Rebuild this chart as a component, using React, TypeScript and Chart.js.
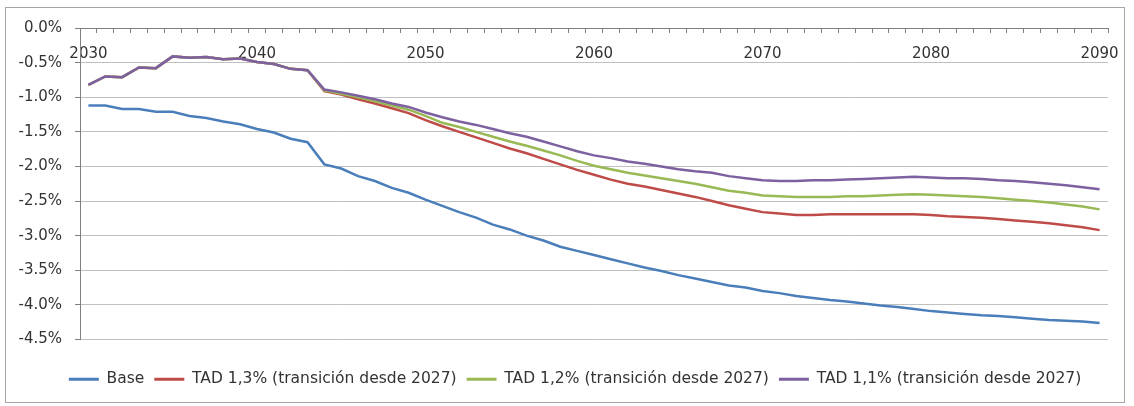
import React, { useEffect, useRef } from "react";
import { Chart, registerables } from "chart.js";

Chart.register(...registerables);

const years = [
  "2030", "2031", "2032", "2033", "2034", "2035", "2036", "2037", "2038", "2039",
  "2040", "2041", "2042", "2043", "2044", "2045", "2046", "2047", "2048", "2049",
  "2050", "2051", "2052", "2053", "2054", "2055", "2056", "2057", "2058", "2059",
  "2060", "2061", "2062", "2063", "2064", "2065", "2066", "2067", "2068", "2069",
  "2070", "2071", "2072", "2073", "2074", "2075", "2076", "2077", "2078", "2079",
  "2080", "2081", "2082", "2083", "2084", "2085", "2086", "2087", "2088", "2089",
  "2090",
];

const base = [
  -1.12, -1.12, -1.17, -1.17, -1.21, -1.21, -1.27, -1.3, -1.35, -1.39,
  -1.46, -1.51, -1.6, -1.65, -1.97, -2.03, -2.14, -2.21, -2.31, -2.38,
  -2.48, -2.57, -2.66, -2.74, -2.84, -2.91, -3.0, -3.07, -3.16, -3.22,
  -3.28, -3.34, -3.4, -3.46, -3.51, -3.57, -3.62, -3.67, -3.72, -3.75,
  -3.8, -3.83, -3.87, -3.9, -3.93, -3.95, -3.98, -4.01, -4.03, -4.06,
  -4.09, -4.11, -4.13, -4.15, -4.16, -4.18, -4.2, -4.22, -4.23, -4.24,
  -4.26,
];

const tad13 = [
  -0.82, -0.7, -0.71, -0.57, -0.58, -0.41, -0.43, -0.42, -0.45, -0.44,
  -0.49, -0.52, -0.59, -0.61, -0.91, -0.96, -1.03, -1.09, -1.16, -1.23,
  -1.33, -1.42, -1.5, -1.58, -1.66, -1.74, -1.81, -1.89, -1.97, -2.05,
  -2.12, -2.19, -2.25, -2.29, -2.34, -2.39, -2.44, -2.5, -2.56, -2.61,
  -2.66, -2.68, -2.7, -2.7, -2.69, -2.69, -2.69, -2.69, -2.69, -2.69,
  -2.7, -2.72, -2.73, -2.74, -2.76, -2.78, -2.8, -2.82, -2.85, -2.88,
  -2.92,
];

const tad12 = [
  -0.82, -0.7, -0.71, -0.57, -0.58, -0.41, -0.43, -0.42, -0.45, -0.44,
  -0.49, -0.52, -0.59, -0.61, -0.9, -0.95, -1.0, -1.06, -1.12, -1.18,
  -1.27, -1.37, -1.43, -1.5, -1.57, -1.64, -1.7, -1.77, -1.84, -1.92,
  -1.99, -2.04, -2.09, -2.13, -2.17, -2.21, -2.25, -2.3, -2.35, -2.38,
  -2.42, -2.43, -2.44, -2.44, -2.44, -2.43, -2.43, -2.42, -2.41, -2.4,
  -2.41, -2.42, -2.43, -2.44, -2.46, -2.48, -2.5, -2.52, -2.55, -2.58,
  -2.62,
];

const tad11 = [
  -0.82, -0.7, -0.71, -0.57, -0.58, -0.41, -0.43, -0.42, -0.45, -0.44,
  -0.49, -0.52, -0.59, -0.61, -0.89, -0.93, -0.98, -1.03, -1.09, -1.14,
  -1.22, -1.29, -1.35, -1.4, -1.46, -1.52, -1.57, -1.64, -1.71, -1.78,
  -1.84, -1.88, -1.93, -1.96, -2.0, -2.04, -2.07, -2.09, -2.14, -2.17,
  -2.2, -2.21, -2.21, -2.2, -2.2, -2.19, -2.18, -2.17, -2.16, -2.15,
  -2.16, -2.17, -2.17, -2.18, -2.2, -2.21, -2.23, -2.25, -2.27, -2.3,
  -2.33,
];

const seriesNames = [
  "Base",
  "TAD 1,3% (transición desde 2027)",
  "TAD 1,2% (transición desde 2027)",
  "TAD 1,1% (transición desde 2027)",
];
const seriesColors = ["#4A7EBB", "#BE4B48", "#98B954", "#7D60A0"];
const seriesValues = [base, tad13, tad12, tad11];

const FONT = "'DejaVu Sans', sans-serif";
const TEXT = "#333333";

// Moves the legend row so it is centred under the whole framed area
// rather than under the canvas minus its right padding.
const legendShift = {
  id: "legendShift",
  afterLayout(chart: any) {
    const lg = chart.legend;
    if (!lg) return;
    lg.left += 21;
    lg.right += 21;
  },
};

export default function App() {
  const canvasRef = useRef<HTMLCanvasElement | null>(null);

  useEffect(() => {
    const canvas = canvasRef.current;
    if (!canvas) return;

    const chart = new Chart(canvas, {
      type: "line",
      data: {
        labels: years,
        datasets: seriesValues.map((values, i) => ({
          label: seriesNames[i],
          data: values,
          borderColor: seriesColors[i],
          backgroundColor: seriesColors[i],
          borderWidth: 2.5,
          pointRadius: 0,
          tension: 0,
          fill: false,
          order: seriesValues.length - i,
        })),
      },
      plugins: [legendShift],
      options: {
        responsive: false,
        animation: false,
        layout: { padding: { left: 0, right: 26, top: 28, bottom: 9 } },
        plugins: {
          tooltip: { enabled: false },
          legend: {
            position: "bottom",
            align: "center",
            title: {
              display: true,
              text: "",
              font: { size: 10 },
              padding: { top: 10, bottom: 0 },
            },
            labels: {
              boxWidth: 30,
              boxHeight: 3,
              padding: 10,
              color: TEXT,
              font: { family: FONT, size: 15.5 },
              sort: (a: any, b: any) => a.datasetIndex - b.datasetIndex,
              generateLabels: (c: any) =>
                c.data.datasets.map((ds: any, i: number) => ({
                  text: ds.label,
                  fillStyle: ds.borderColor,
                  strokeStyle: ds.borderColor,
                  fontColor: TEXT,
                  lineWidth: 0,
                  hidden: false,
                  datasetIndex: i,
                })),
            },
          },
        },
        scales: {
          x: {
            type: "category",
            offset: true,
            position: { y: 0 } as any,
            grid: {
              offset: true,
              drawOnChartArea: false,
              drawTicks: true,
              tickLength: 4,
              tickColor: "#808080",
            },
            border: { display: true, color: "#808080", width: 1 },
            ticks: {
              autoSkip: false,
              maxRotation: 0,
              minRotation: 0,
              padding: 13,
              color: TEXT,
              font: { family: FONT, size: 15 },
              callback: (_v: any, idx: number) =>
                Number(years[idx]) % 10 === 0 ? years[idx] : "",
            },
          },
          y: {
            min: -4.5,
            max: 0,
            afterFit: (s: any) => {
              s.width = 80;
            },
            grid: {
              color: "#c0c0c0",
              lineWidth: 1,
              drawTicks: true,
              tickLength: 5,
              tickColor: "#808080",
            },
            border: { display: true, color: "#808080", width: 1 },
            ticks: {
              stepSize: 0.5,
              padding: 13,
              color: TEXT,
              font: { family: FONT, size: 15 },
              callback: (v: any) => Number(v).toFixed(1) + "%",
            },
          },
        },
      },
    });

    return () => chart.destroy();
  }, []);

  return (
    <div
      style={{
        position: "absolute",
        left: 0,
        top: 0,
        width: 1134,
        height: 406,
        background: "#ffffff",
      }}
    >
      <canvas ref={canvasRef} width={1134} height={406} />
      <div
        style={{
          position: "absolute",
          left: 5,
          top: 7,
          width: 1120,
          height: 396,
          boxSizing: "border-box",
          border: "1px solid #a6a6a6",
          pointerEvents: "none",
        }}
      />
    </div>
  );
}
